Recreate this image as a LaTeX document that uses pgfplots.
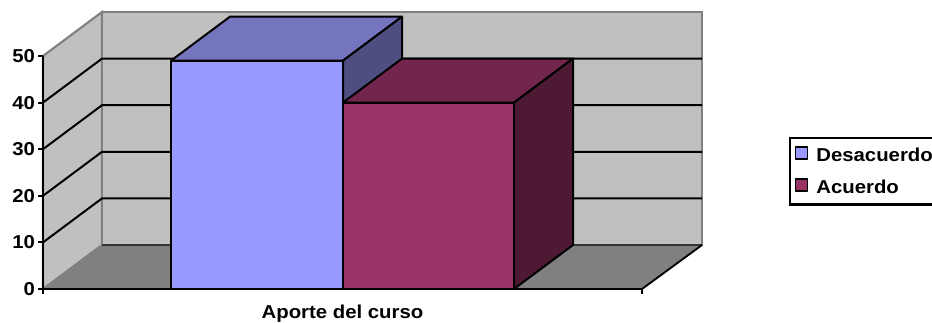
\documentclass[border=0pt]{standalone}
\usepackage{fontspec}
\setmainfont[FakeStretch=1.09]{Liberation Sans}
\usepackage{pgfplots}
\pgfplotsset{compat=1.18}
\definecolor{wall}{HTML}{C0C0C0}
\definecolor{floorc}{HTML}{808080}
\definecolor{aF}{HTML}{9999FF}
\definecolor{aT}{HTML}{7474BF}
\definecolor{aS}{HTML}{4E4E80}
\definecolor{bF}{HTML}{993366}
\definecolor{bT}{HTML}{73264D}
\definecolor{bS}{HTML}{4D1933}
\begin{document}
\begin{tikzpicture}
\useasboundingbox (0,0) rectangle (699pt,242.25pt);
\begin{axis}[
  at={(32.25pt,25.5pt)},anchor=south west,
  x=0.75pt,y=3.495pt,
  xmin=43,xmax=642,ymin=0,ymax=50,
  clip=false,axis on top,
  axis x line*=bottom,axis y line*=left,
  axis line style={line width=2.1pt,black},
  ytick={0,10,20,30,40,50},
  xtick={43,642},xticklabels={,},
  xlabel={Aporte del curso},
  xlabel style={font=\bfseries\fontsize{14}{16}\selectfont,text=black,anchor=base,at={(axis description cs:0.5,0)},yshift=-22.5pt},
  tick style={line width=1.4pt,black},
  major tick length=3.5pt,
  tick align=outside,
  /pgf/number format/assume math mode=true,
  tick label style={font=\bfseries\fontsize{14}{16}\selectfont,text=black},
  yticklabel style={xshift=1pt},
  legend style={at={(axis cs:789,32.6)},anchor=north west,draw=black,line width=1.6pt,
    font=\bfseries\fontsize{14}{16}\selectfont,text width=120pt,
    inner xsep=3.5pt,inner ysep=5pt,row sep=8.5pt,
    /tikz/every odd column/.append style={column sep=5pt},
    nodes={inner ysep=2pt,inner xsep=1pt,yshift=-1.5pt}},
  legend cell align=left,
  legend image code/.code={\draw[#1,line width=1.2pt] (0pt,-4.4pt) rectangle (9pt,4.6pt);},
]
% walls and floor
\addplot[forget plot,fill=wall,draw=floorc,line width=1.6pt] coordinates {(43,0)(102,9.44)(102,59.44)(43,50)} --cycle;
\addplot[forget plot,fill=wall,draw=floorc,line width=1.6pt] coordinates {(102,9.44)(702,9.44)(702,59.44)(102,59.44)} --cycle;
\addplot[forget plot,fill=floorc,draw=none] coordinates {(43,0)(642,0)(702,9.44)(102,9.44)} --cycle;
\addplot[forget plot,draw=black!60!gray,line width=0.9pt] coordinates {(102,9.44)(702,9.44)};
\addplot[forget plot,draw=black,line width=1.4pt] coordinates {(642,0)(702,9.44)};
% gridlines
\addplot[forget plot,black,line width=1.5pt] coordinates {(43,10)(102,19.44)(702,19.44)};
\addplot[forget plot,black,line width=1.5pt] coordinates {(43,20)(102,29.44)(702,29.44)};
\addplot[forget plot,black,line width=1.5pt] coordinates {(43,30)(102,39.44)(702,39.44)};
\addplot[forget plot,black,line width=1.5pt] coordinates {(43,40)(102,49.44)(702,49.44)};
% bar 1 depth faces
\addplot[forget plot,fill=aT,draw=black,line width=1.5pt,line join=round] coordinates {(171,49)(343,49)(402,58.44)(230,58.44)} --cycle;
\addplot[forget plot,fill=aS,draw=black,line width=1.5pt,line join=round] coordinates {(343,0)(402,9.44)(402,58.44)(343,49)} --cycle;
% bar fronts
\addplot[fill=aF,draw=black,line width=1.5pt,line join=round] coordinates {(171,0)(171,49)(343,49)(343,0)} --cycle;
\addlegendentry{Desacuerdo}
% bar 2 depth faces
\addplot[forget plot,fill=bT,draw=black,line width=1.5pt,line join=round] coordinates {(343,40)(514,40)(573,49.44)(402,49.44)} --cycle;
\addplot[forget plot,fill=bS,draw=black,line width=1.5pt,line join=round] coordinates {(514,0)(573,9.44)(573,49.44)(514,40)} --cycle;
\addplot[fill=bF,draw=black,line width=1.5pt,line join=round] coordinates {(343,0)(343,40)(514,40)(514,0)} --cycle;
\addlegendentry{Acuerdo}
\end{axis}
\end{tikzpicture}
\end{document}
